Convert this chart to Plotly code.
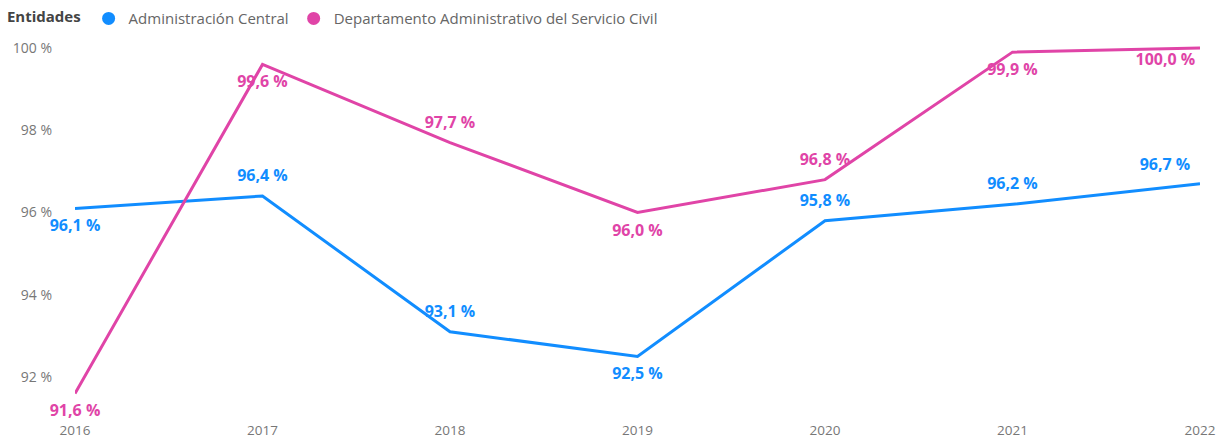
import plotly.graph_objects as go

years = [2016, 2017, 2018, 2019, 2020, 2021, 2022]
admin_central = [96.1, 96.4, 93.1, 92.5, 95.8, 96.2, 96.7]
servicio_civil = [91.6, 99.6, 97.7, 96.0, 96.8, 99.9, 100.0]

series_names = ["Administración Central", "Departamento Administrativo del Servicio Civil"]
colors = ["#118DFF", "#E044A7"]

# label placement for each point (above / below the line); the last
# labels sit to the left so they stay inside the chart
admin_pos = ["bottom center", "top center", "top center", "bottom center",
             "top center", "top center", "top left"]
civil_pos = ["bottom center", "bottom center", "top center", "bottom center",
             "top center", "bottom center", "bottom left"]
# invisible marker sizes control how far each label sits from its point
admin_gap = [16, 16, 16, 16, 16, 16, 14]
civil_gap = [16, 16, 16, 16, 16, 16, 6]

y_ticks = [92, 94, 96, 98, 100]
y_ticktext = ["92 %", "94 %", "96 %", "98 %", "100 %"]


def fmt(v):
    return f"{v:.1f}".replace(".", ",") + " %"


fig = go.Figure()
for name, vals, pos, gap, col in [
    (series_names[0], admin_central, admin_pos, admin_gap, colors[0]),
    (series_names[1], servicio_civil, civil_pos, civil_gap, colors[1]),
]:
    fig.add_trace(go.Scatter(
        x=years, y=vals, mode="lines+markers+text", name=name,
        line=dict(color=col, width=3),
        marker=dict(size=gap, color=col, opacity=0),
        text=[fmt(v) for v in vals], textposition=pos,
        textfont=dict(family="Open Sans", size=16, color=col, weight="bold"),
        cliponaxis=False, showlegend=False, hoverinfo="x+y",
    ))
    # legend entry with a round marker
    fig.add_trace(go.Scatter(
        x=[None], y=[None], mode="markers", name=name,
        marker=dict(color=col, size=13, symbol="circle"),
    ))

fig.update_layout(
    width=1222, height=440,
    margin=dict(l=75, r=22, t=40, b=20, autoexpand=False),
    paper_bgcolor="white", plot_bgcolor="white",
    font=dict(family="Open Sans", color="#666666", size=13),
    showlegend=True,
    legend=dict(
        orientation="h", x=0.004, xref="container", y=0.995, yref="container",
        xanchor="left", yanchor="top",
        title=dict(text="<b>Entidades</b>", font=dict(size=15, color="#444444")),
        font=dict(size=15, color="#666666"),
        itemwidth=30, tracegroupgap=0, itemclick=False,
    ),
    xaxis=dict(
        range=[2016, 2022], tickvals=years, ticktext=[str(y) for y in years],
        showgrid=False, zeroline=False, showline=False, ticks="",
        automargin=False,
        tickfont=dict(size=13.5, color="#777777"),
    ),
    yaxis=dict(
        range=[90.954, 100.195], tickvals=y_ticks, ticktext=y_ticktext,
        showgrid=False, zeroline=False, showline=False, ticks="",
        automargin=False, ticklabelstandoff=22,
        tickfont=dict(size=14, color="#777777"),
    ),
)

fig.write_html("out.html")
